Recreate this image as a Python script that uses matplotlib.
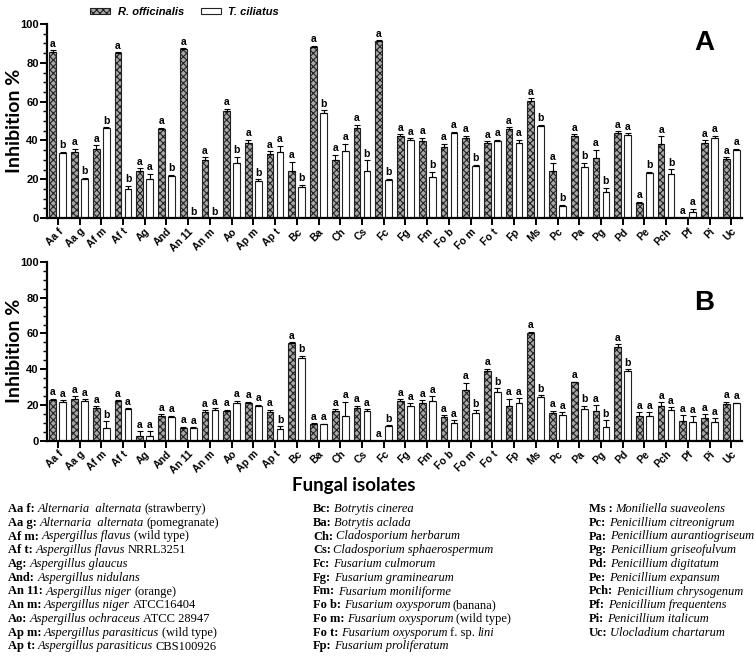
import matplotlib
matplotlib.use("Agg")
import matplotlib.pyplot as plt
import numpy as np
from matplotlib.ticker import MultipleLocator, AutoMinorLocator
from matplotlib.patches import Patch

categories = ["Aa f", "Aa g", "Af m", "Af t", "Ag", "And", "An 11", "An m", "Ao", "Ap m",
              "Ap t", "Bc", "Ba", "Ch", "Cs", "Fc", "Fg", "Fm", "Fo b", "Fo m", "Fo t",
              "Fp", "Ms", "Pc", "Pa", "Pg", "Pd", "Pe", "Pch", "Pf", "Pi", "Uc"]

# Panel A
A_rof = [85.7, 34.2, 35.6, 84.9, 24.2, 45.7, 87.0, 30.2, 55.2, 38.5,
         33.0, 24.4, 88.3, 29.9, 46.5, 91.2, 42.3, 39.8, 36.4, 41.1, 38.5,
         45.7, 60.3, 24.2, 42.3, 31.1, 43.7, 7.7, 38.1, 0.3, 38.5, 30.4]
A_rof_err = [0.8, 1.5, 2.0, 0.6, 1.5, 0.8, 0.5, 1.2, 1.0, 1.8,
             1.5, 4.5, 0.6, 2.6, 1.5, 0.5, 1.0, 1.5, 2.0, 1.2, 1.0,
             1.2, 1.5, 4.0, 1.0, 4.0, 1.0, 0.8, 4.0, 0.0, 1.5, 1.0]
A_tci = [33.3, 20.4, 46.2, 14.8, 20.4, 21.6, 0.0, 0.0, 28.5, 19.1,
         34.2, 15.8, 54.0, 34.7, 24.4, 19.4, 40.2, 21.0, 43.7, 26.8, 39.5,
         38.5, 47.4, 6.2, 26.4, 13.6, 42.8, 23.4, 22.7, 3.3, 41.4, 35.0]
A_tci_err = [0.8, 0.5, 0.6, 2.0, 2.5, 0.6, 0.0, 0.0, 3.0, 1.0,
             3.0, 1.5, 1.5, 3.5, 5.5, 1.0, 1.0, 3.0, 0.8, 0.6, 1.0,
             2.0, 0.8, 0.8, 2.0, 2.0, 0.8, 0.6, 2.5, 1.5, 1.0, 0.8]
A_rof_lbl = ["a"] * 32
A_tci_lbl = ["b", "b", "b", "b", "a", "b", "b", "b", "b", "b",
             "a", "b", "b", "a", "b", "b", "a", "b", "a", "b", "a",
             "a", "b", "b", "b", "b", "a", "b", "b", "a", "a", "a"]

# Panel B
B_rof = [22.8, 23.3, 18.3, 22.2, 2.6, 13.8, 7.1, 15.9, 16.8, 20.9,
         15.9, 54.5, 9.1, 16.6, 18.1, 0.0, 22.4, 21.3, 13.4, 28.4, 39.2,
         19.4, 60.4, 15.3, 32.6, 16.6, 52.6, 13.8, 19.6, 11.2, 12.9, 20.3]
B_rof_err = [0.8, 1.5, 1.0, 0.6, 2.8, 1.0, 0.8, 1.0, 0.6, 1.0,
             1.5, 0.5, 0.6, 1.0, 1.5, 0.0, 0.8, 1.5, 0.8, 4.0, 1.0,
             4.0, 0.6, 1.5, 0.5, 3.4, 1.5, 2.0, 2.0, 3.0, 2.0, 1.5]
B_tci = [21.8, 22.2, 7.3, 17.7, 2.6, 13.1, 6.9, 17.2, 21.3, 19.6,
         6.5, 46.1, 9.1, 13.8, 16.6, 8.2, 19.4, 22.4, 10.1, 15.7, 27.4,
         20.9, 24.6, 14.4, 17.5, 7.8, 39.0, 13.8, 17.2, 10.6, 10.6, 20.9]
B_tci_err = [0.8, 1.0, 3.7, 0.6, 2.8, 0.8, 0.8, 1.0, 1.0, 0.6,
             1.5, 1.5, 0.5, 8.0, 1.0, 0.6, 1.5, 2.5, 1.5, 1.5, 2.0,
             3.0, 1.0, 1.5, 2.0, 3.7, 1.0, 2.0, 1.5, 3.0, 2.0, 0.4]
B_rof_lbl = ["a"] * 32
B_tci_lbl = ["a", "a", "b", "a", "a", "a", "a", "a", "a", "a",
             "b", "b", "a", "a", "a", "b", "a", "a", "a", "b", "b",
             "a", "b", "a", "b", "b", "b", "a", "a", "a", "a", "a"]

# key text: segments of (text, style) with b=bold, i=italic, r=regular
legend_col1 = [[("Aa f:", "b"), ("Alternaria  alternata", "i"), ("(strawberry)", "r")],
               [("Aa g:", "b"), ("Alternaria  alternata", "i"), ("(pomegranate)", "r")],
               [("Af m:", "b"), ("Aspergillus flavus", "i"), ("(wild type)", "r")],
               [("Af t:", "b"), ("Aspergillus flavus", "i"), ("NRRL3251", "r")],
               [("Ag:", "b"), ("Aspergillus glaucus", "i")],
               [("And:", "b"), ("Aspergillus nidulans", "i")],
               [("An 11:", "b"), ("Aspergillus niger", "i"), ("(orange)", "r")],
               [("An m:", "b"), ("Aspergillus niger", "i"), ("ATCC16404", "r")],
               [("Ao:", "b"), ("Aspergillus ochraceus", "i"), ("ATCC 28947", "r")],
               [("Ap m:", "b"), ("Aspergillus parasiticus", "i"), ("(wild type)", "r")],
               [("Ap t:", "b"), ("Aspergillus parasiticus", "i"), ("CBS100926", "r")]]
legend_col2 = [[("Bc:", "b"), ("Botrytis cinerea", "i")],
               [("Ba:", "b"), ("Botrytis aclada", "i")],
               [("Ch:", "b"), ("Cladosporium herbarum", "i")],
               [("Cs:", "b"), ("Cladosporium sphaerospermum", "i")],
               [("Fc:", "b"), ("Fusarium culmorum", "i")],
               [("Fg:", "b"), ("Fusarium graminearum", "i")],
               [("Fm:", "b"), ("Fusarium moniliforme", "i")],
               [("Fo b:", "b"), ("Fusarium oxysporum", "i"), ("(banana)", "r")],
               [("Fo m:", "b"), ("Fusarium oxysporum", "i"), ("(wild type)", "r")],
               [("Fo t:", "b"), ("Fusarium oxysporum", "i"), ("f. sp.", "r"), ("lini", "i")],
               [("Fp:", "b"), ("Fusarium proliferatum", "i")]]
legend_col3 = [[("Ms :", "b"), ("Moniliella suaveolens", "i")],
               [("Pc:", "b"), ("Penicillium citreonigrum", "i")],
               [("Pa:", "b"), ("Penicillium aurantiogriseum", "i")],
               [("Pg:", "b"), ("Penicillium griseofulvum", "i")],
               [("Pd:", "b"), ("Penicillium digitatum", "i")],
               [("Pe:", "b"), ("Penicillium expansum", "i")],
               [("Pch:", "b"), ("Penicillium chrysogenum", "i")],
               [("Pf:", "b"), ("Penicillium frequentens", "i")],
               [("Pi:", "b"), ("Penicillium italicum", "i")],
               [("Uc:", "b"), ("Ulocladium chartarum", "i")]]

plt.rcParams['hatch.linewidth'] = 0.8
plt.rcParams['hatch.color'] = '#4a4a4a'

W, H = 754, 663
fig = plt.figure(figsize=(W / 100, H / 100), dpi=100)
axA = fig.add_axes([0.0623, 0.671, 0.922, 0.2928])
axB = fig.add_axes([0.0623, 0.3353, 0.922, 0.2695])

x = np.arange(len(categories))
w = 0.31
off = 0.23
tickfont = dict(family='Liberation Sans', weight='bold', size=7.5)

def draw(ax, rof, rof_err, tci, tci_err, rl, tl, tag, tag_y):
    ax.bar(x - off, rof, w, color='#a8a8a8', edgecolor='#222222', linewidth=0.8,
           hatch='xxxxx', zorder=2)
    ax.bar(x + off, tci, w, color='white', edgecolor='#222222', linewidth=0.8, zorder=2)
    ax.errorbar(x - off, rof, yerr=[np.zeros(len(x)), rof_err], fmt='none',
                ecolor='black', elinewidth=0.8, capsize=2, capthick=0.8, zorder=3)
    ax.errorbar(x + off, tci, yerr=[np.zeros(len(x)), tci_err], fmt='none',
                ecolor='black', elinewidth=0.8, capsize=2, capthick=0.8, zorder=3)
    for xi, v, e, s in zip(x - off, rof, rof_err, rl):
        ax.text(xi, v + e + 0.8, s, ha='center', va='bottom', fontsize=7.5,
                fontweight='bold', family='Liberation Sans')
    for xi, v, e, s in zip(x + off, tci, tci_err, tl):
        ax.text(xi, v + e + 0.8, s, ha='center', va='bottom', fontsize=7.5,
                fontweight='bold', family='Liberation Sans')
    ax.set_xlim(-0.5, len(x) - 0.5)
    ax.set_ylim(0, 100)
    ax.spines['top'].set_visible(False)
    ax.spines['right'].set_visible(False)
    ax.spines['left'].set_linewidth(1.6)
    ax.spines['bottom'].set_linewidth(1.6)
    ax.yaxis.set_major_locator(MultipleLocator(20))
    ax.yaxis.set_minor_locator(AutoMinorLocator(4))
    ax.tick_params(axis='y', which='major', length=5, width=1.4, pad=1)
    ax.tick_params(axis='y', which='minor', length=3, width=1.0)
    ax.tick_params(axis='x', which='major', length=5, width=1.4, pad=1)
    ax.set_xticks(x)
    ax.set_xticklabels(categories, rotation=45, ha='right', rotation_mode='anchor',
                       **tickfont)
    for lab in ax.get_yticklabels():
        lab.set_fontfamily('Liberation Sans')
        lab.set_fontweight('bold')
        lab.set_fontsize(8)
    ax.set_ylabel("Inhibition %", family='Lato', fontweight='bold', fontsize=14)
    ax.yaxis.set_label_coords(-0.034, 0.5)
    ax.text(0.945, tag_y, tag, transform=ax.transAxes, fontsize=20, fontweight='bold',
            family='Liberation Sans', ha='center', va='center')

draw(axA, A_rof, A_rof_err, A_tci, A_tci_err, A_rof_lbl, A_tci_lbl, "A", 0.90)
draw(axB, B_rof, B_rof_err, B_tci, B_tci_err, B_rof_lbl, B_tci_lbl, "B", 0.77)

handles = [Patch(facecolor='#a8a8a8', edgecolor='#222222', hatch='xxxxx', linewidth=0.8),
           Patch(facecolor='white', edgecolor='#222222', linewidth=0.8)]
fig.legend(handles, ["R. officinalis", "T. ciliatus"], loc='center left',
           bbox_to_anchor=(90 / W, 1 - 12 / H), ncol=2, frameon=False,
           prop=dict(family='Liberation Sans', weight='bold', style='italic', size=8),
           handlelength=1.8, handleheight=0.45, columnspacing=1.5, handletextpad=0.7,
           borderpad=0, borderaxespad=0)

fig.text(354 / W, 1 - 485 / H, "Fungal isolates", family='Lato', fontweight='bold',
         fontsize=13.5, ha='center', va='center')

renderer = fig.canvas.get_renderer()
styles = {"b": dict(fontweight='bold', fontstyle='normal'),
          "i": dict(fontweight='normal', fontstyle='italic'),
          "r": dict(fontweight='normal', fontstyle='normal')}
fs = 9
gap = 2.6  # pixels between segments

cols = [(8, legend_col1), (313, legend_col2), (589, legend_col3)]
y0 = 509
dy = 13.75
for cx, items in cols:
    for i, segs in enumerate(items):
        px = cx
        py = H - (y0 + i * dy)
        for txt, st in segs:
            t = fig.text(px / W, py / H, txt, family='Liberation Serif', fontsize=fs,
                         ha='left', va='center', **styles[st])
            bb = t.get_window_extent(renderer)
            px = bb.x1 + gap

fig.savefig("out.png", dpi=100)
